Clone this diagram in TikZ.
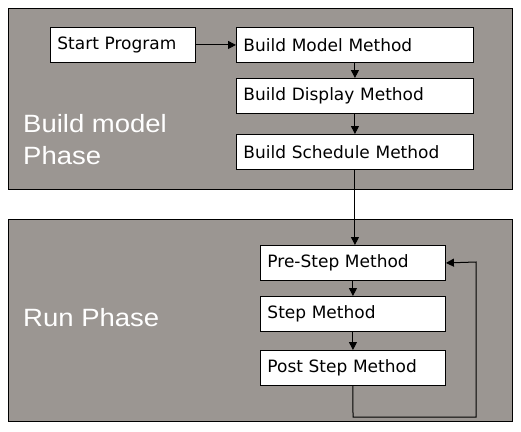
\documentclass[tikz,border=0pt]{standalone}
\usepackage{fontspec}
\setmainfont{DejaVu Sans}
\newfontfamily\phasefont[FakeStretch=1.1]{Liberation Sans}
\usetikzlibrary{arrows.meta}
\definecolor{panelgray}{RGB}{155,150,146}
\tikzset{
  panel/.style={draw=black, line width=1pt, fill=panelgray},
  box/.style={draw=black, line width=0.9pt, fill=white, anchor=north west, inner xsep=7pt, inner ysep=0pt,
    minimum height=35pt, align=left, font=\fontsize{17}{19}\selectfont},
  phase/.style={anchor=base west, inner sep=0pt, text=white, align=left, font=\phasefont\fontsize{25}{32}\selectfont},
  conn/.style={draw=black, line width=1pt, -{Triangle[length=8pt,width=8pt]}}
}
\begin{document}
\begin{tikzpicture}[x=1pt,y=-1pt]
\useasboundingbox (0,0) rectangle (521,431);
\fill[white] (0,0) rectangle (521,431);
\draw[panel] (8,8) rectangle (512,189);
\draw[panel] (8,219) rectangle (512,421);
\node[phase] (bp1) at (23,132) {Build model};
\node[phase] (bp2) at (23,164) {Phase};
\node[phase] (rp) at (23,326) {Run Phase};
\node[box, text width=131pt] (start) at (50,27) {Start Program};
\node[box, text width=223pt] (bmm) at (236,27) {Build Model Method};
\node[box, text width=223pt] (bdm) at (236,78) {Build Display Method};
\node[box, text width=223pt] (bsm) at (236,134) {Build Schedule Method};
\node[box, text width=171pt] (pre) at (260,245) {Pre-Step Method};
\node[box, text width=171pt] (stp) at (260,296) {Step Method};
\node[box, text width=171pt] (post) at (260,350) {Post Step Method};
\coordinate (l1) at (353,417);
\coordinate (l2) at (476,417);
\coordinate (l3) at (476,262);
\draw[conn] (start) -- (bmm);
\draw[conn] (bmm) -- (bdm);
\draw[conn] (bdm) -- (bsm);
\draw[conn] (bsm.south) -- (bsm.south |- pre.north);
\draw[conn] (pre) -- (stp);
\draw[conn] (stp) -- (post);
\draw[conn] (post.south) -- (l1) -- (l2) -- (l3) -- (pre.east);
\end{tikzpicture}
\end{document}
